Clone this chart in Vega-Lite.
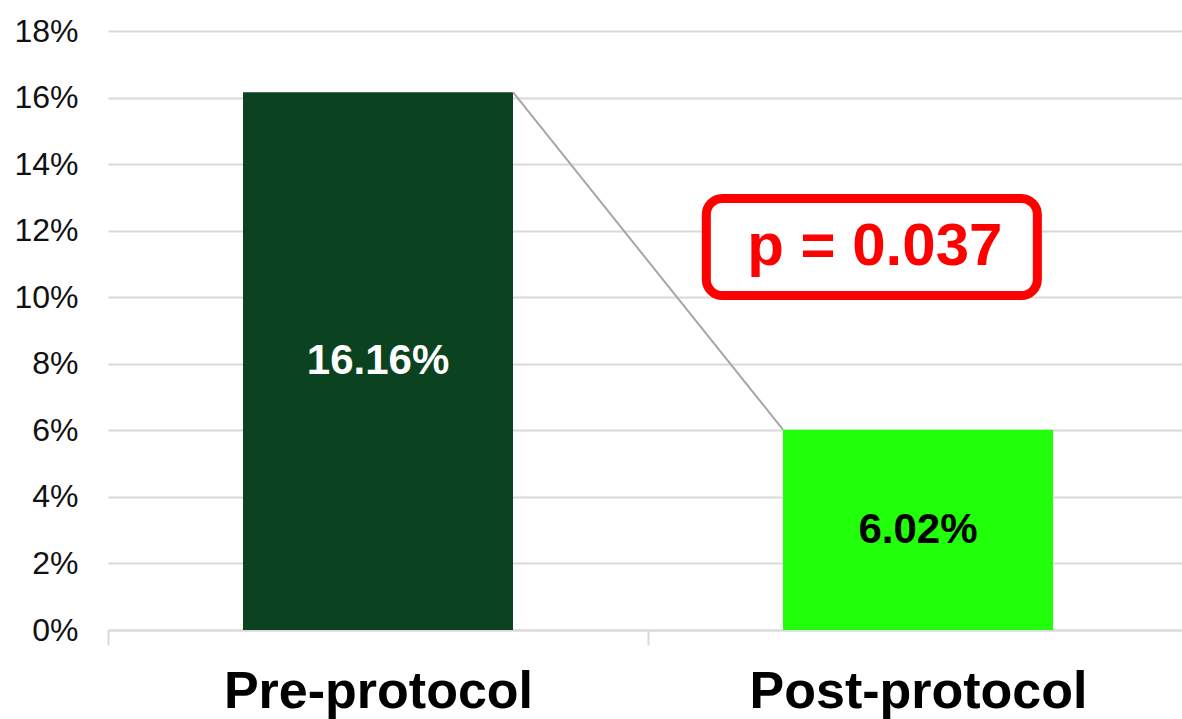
{
  "$schema": "https://vega.github.io/schema/vega-lite/v6.json",
  "width": 1074,
  "height": 599,
  "autosize": {"type": "none"},
  "padding": {"left": 108, "top": 31, "right": 0, "bottom": 89},
  "background": "white",
  "config": {
    "view": {"stroke": null},
    "font": "Liberation Sans"
  },
  "layer": [
    {
      "data": {
        "values": [
          {"group": "Pre-protocol", "rate": 16.16, "label": "16.16%"},
          {"group": "Post-protocol", "rate": 6.02, "label": "6.02%"}
        ]
      },
      "encoding": {
        "x": {
          "field": "group",
          "type": "nominal",
          "sort": null,
          "scale": {"type": "band", "range": [0, 1080], "paddingInner": 0.5, "paddingOuter": 0.25},
          "axis": {
            "title": null,
            "labelAngle": 0,
            "labelFontSize": 52,
            "labelFontWeight": "bold",
            "labelColor": "#000000",
            "labelLimit": 0,
            "labelPadding": 21,
            "labelOffset": 270,
            "tickOffset": -270,
            "domainColor": "#d9d9d9",
            "domainWidth": 2,
            "tickColor": "#d9d9d9",
            "tickWidth": 2,
            "tickSize": 15,
            "grid": false
          }
        }
      },
      "layer": [
        {
          "mark": {"type": "bar"},
          "encoding": {
            "y": {
              "field": "rate",
              "type": "quantitative",
              "scale": {"domain": [0, 18], "nice": false},
              "axis": {
                "title": null,
                "values": [0, 2, 4, 6, 8, 10, 12, 14, 16, 18],
                "labelExpr": "datum.value + '%'",
                "labelFontSize": 32,
                "labelColor": "#111111",
                "labelPadding": 30,
                "domain": false,
                "ticks": false,
                "gridColor": "#d9d9d9",
                "gridWidth": 2
              }
            },
            "color": {
              "field": "group",
              "type": "nominal",
              "sort": null,
              "scale": {"domain": ["Pre-protocol", "Post-protocol"], "range": ["#0b4220", "#22ff0b"]},
              "legend": null
            }
          }
        },
        {
          "transform": [{"calculate": "datum.rate / 2", "as": "mid"}],
          "mark": {"type": "text", "fontSize": 42, "fontWeight": "bold", "baseline": "middle"},
          "encoding": {
            "y": {"field": "mid", "type": "quantitative"},
            "text": {"field": "label"},
            "color": {
              "condition": {"test": "datum.group === 'Pre-protocol'", "value": "#ffffff"},
              "value": "#000000"
            }
          }
        }
      ]
    },
    {
      "data": {"values": [{}]},
      "layer": [
        {
          "mark": {"type": "rule", "color": "#a6a6a6", "strokeWidth": 2},
          "encoding": {
            "x": {"datum": 0.75, "type": "quantitative", "scale": {"domain": [0, 2], "range": [0, 1080]}, "axis": null},
            "x2": {"datum": 1.25},
            "y": {"datum": 16.16, "type": "quantitative"},
            "y2": {"datum": 6.02}
          }
        },
        {
          "mark": {"type": "rect", "fill": "#ffffff", "stroke": "#ff0000", "strokeWidth": 9, "cornerRadius": 16},
          "encoding": {
            "x": {"datum": 1.108, "type": "quantitative"},
            "x2": {"datum": 1.721},
            "y": {"datum": 12.97, "type": "quantitative"},
            "y2": {"datum": 10.05}
          }
        },
        {
          "mark": {"type": "text", "fontSize": 60, "fontWeight": "bold", "color": "#ff0000", "baseline": "alphabetic", "align": "center"},
          "encoding": {
            "x": {"datum": 1.42, "type": "quantitative"},
            "y": {"datum": 10.97, "type": "quantitative"},
            "text": {"value": "p = 0.037"}
          }
        }
      ]
    }
  ],
  "resolve": {"scale": {"x": "independent"}}
}
